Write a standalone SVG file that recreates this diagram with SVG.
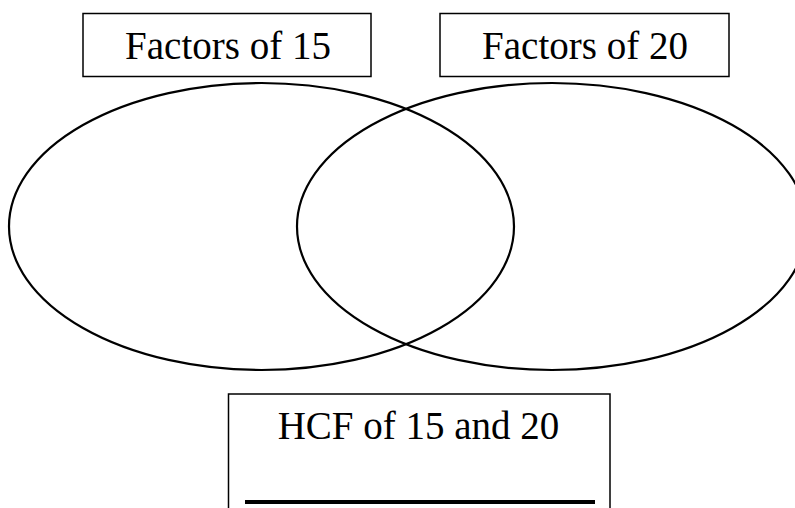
<svg xmlns="http://www.w3.org/2000/svg" width="795" height="508" viewBox="0 0 795 508">
<style>
.box{fill:#fff;stroke:#000;stroke-width:1.5}
.ell{fill:none;stroke:#000;stroke-width:2.2}
.lbl{font-family:"Liberation Serif","DejaVu Serif",serif;font-size:39px;fill:#000;text-anchor:middle}
</style>
<rect width="795" height="508" fill="#fff"/>
<g id="set15">
<ellipse class="ell" cx="261.5" cy="226.5" rx="252.5" ry="143.5"/>
</g>
<g id="set20">
<ellipse class="ell" cx="552" cy="226.5" rx="255" ry="143.5"/>
</g>
<g id="label15">
<rect class="box" x="83" y="13.5" width="288" height="63"/>
<text class="lbl" x="228" y="59">Factors of 15</text>
</g>
<g id="label20">
<rect class="box" x="440" y="13.5" width="289" height="63"/>
<text class="lbl" x="585" y="59">Factors of 20</text>
</g>
<g id="hcf">
<rect class="box" x="228.5" y="394" width="381.5" height="130"/>
<text class="lbl" x="418.5" y="439">HCF of 15 and 20</text>
<line x1="245" y1="502" x2="595" y2="502" stroke="#000" stroke-width="4"/>
</g>
<g id="connectors"></g>
</svg>
